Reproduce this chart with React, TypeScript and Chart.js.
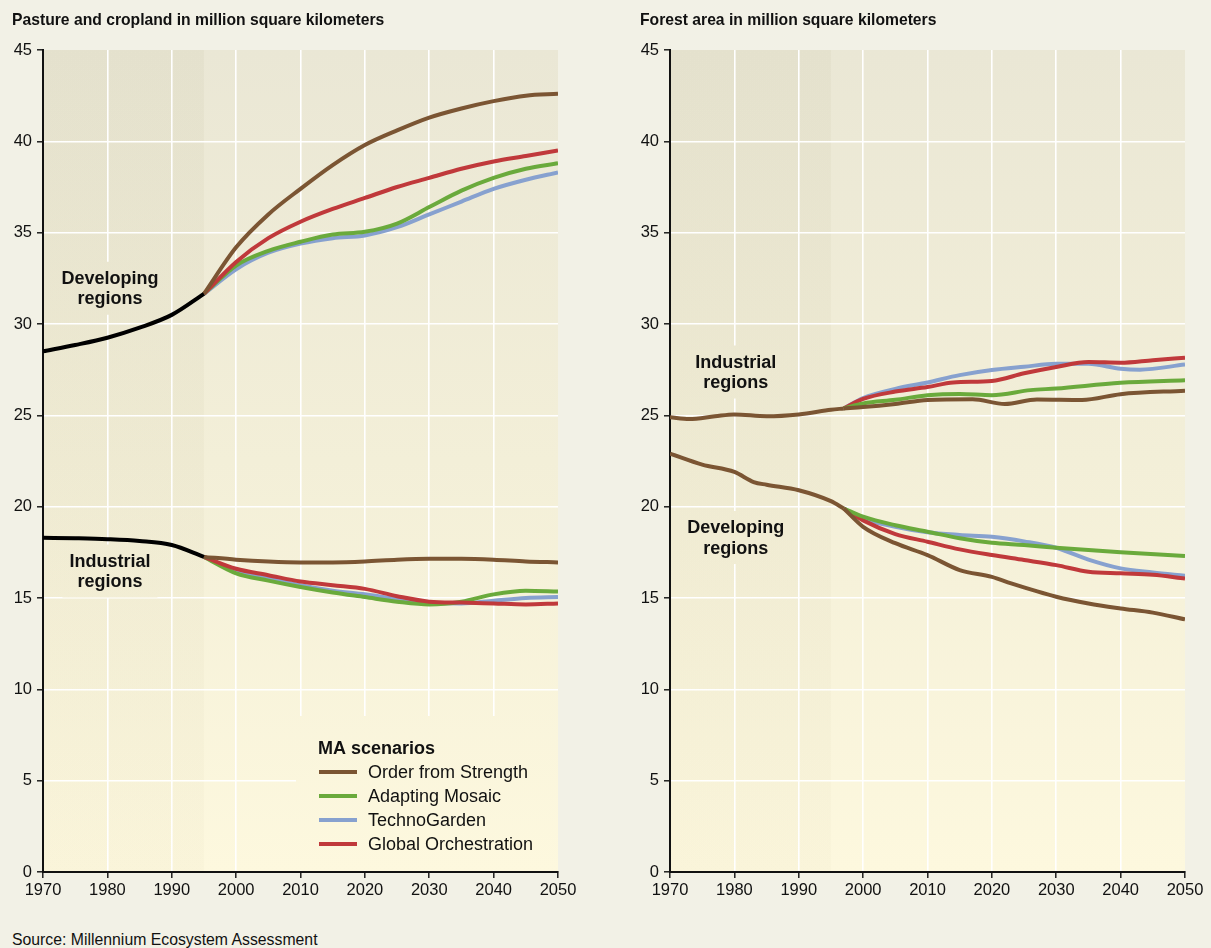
import React, { useEffect, useRef } from "react";
import { Chart, registerables } from "chart.js";

Chart.register(...registerables);

// ---------------- DATA ----------------
// Left panel: pasture and cropland (million km²)
const pastureHistYears = [1970, 1975, 1980, 1985, 1990, 1995];
const pastureDevHist = [28.5, 28.85, 29.25, 29.8, 30.5, 31.65];
const pastureIndHist = [18.3, 18.27, 18.22, 18.12, 17.9, 17.25];

const pastureScenYears = [1995, 2000, 2005, 2010, 2015, 2020, 2025, 2030, 2035, 2040, 2045, 2050];
const pastureDevOfS = [31.65, 34.2, 36.0, 37.4, 38.7, 39.8, 40.6, 41.3, 41.8, 42.2, 42.5, 42.6];
const pastureDevAM = [31.65, 33.2, 34.0, 34.5, 34.9, 35.05, 35.5, 36.4, 37.3, 38.0, 38.5, 38.8];
const pastureDevTG = [31.65, 33.0, 33.9, 34.4, 34.7, 34.85, 35.3, 36.0, 36.7, 37.4, 37.9, 38.3];
const pastureDevGO = [31.65, 33.4, 34.7, 35.6, 36.3, 36.9, 37.5, 38.0, 38.5, 38.9, 39.2, 39.5];
const pastureIndOfS = [17.25, 17.1, 17.0, 16.95, 16.95, 17.0, 17.1, 17.15, 17.15, 17.1, 17.0, 16.95];
const pastureIndAM = [17.25, 16.35, 15.95, 15.6, 15.3, 15.05, 14.8, 14.65, 14.8, 15.2, 15.4, 15.35];
const pastureIndTG = [17.25, 16.5, 16.1, 15.7, 15.4, 15.2, 14.95, 14.75, 14.7, 14.85, 15.0, 15.05];
const pastureIndGO = [17.25, 16.6, 16.25, 15.9, 15.7, 15.5, 15.1, 14.8, 14.75, 14.7, 14.65, 14.7];

// Right panel: forest area (million km²)
const forestIndHistYears = [1970, 1973, 1977, 1980, 1985, 1990, 1995, 1997];
const forestIndHist = [24.9, 24.8, 24.95, 25.05, 24.95, 25.05, 25.3, 25.38];
const forestDevHistYears = [1970, 1975, 1980, 1983, 1985, 1990, 1995, 1997];
const forestDevHist = [22.9, 22.3, 21.9, 21.35, 21.2, 20.9, 20.3, 19.9];

const forestIndOfSYears = [1997, 2000, 2005, 2010, 2017, 2022, 2027, 2034, 2040, 2050];
const forestIndOfS = [25.38, 25.45, 25.62, 25.84, 25.88, 25.62, 25.87, 25.84, 26.16, 26.35];
const forestIndAMYears = [1997, 2000, 2005, 2010, 2015, 2020, 2026, 2030, 2040, 2050];
const forestIndAM = [25.38, 25.65, 25.85, 26.1, 26.17, 26.1, 26.38, 26.47, 26.78, 26.92];
const forestIndTGYears = [1997, 2000, 2005, 2010, 2015, 2020, 2025, 2030, 2035, 2040, 2043, 2050];
const forestIndTG = [25.38, 25.95, 26.45, 26.8, 27.2, 27.48, 27.66, 27.82, 27.82, 27.55, 27.5, 27.78];
const forestIndGOYears = [1997, 2000, 2005, 2010, 2014, 2020, 2025, 2030, 2035, 2040, 2045, 2050];
const forestIndGO = [25.38, 25.9, 26.3, 26.55, 26.8, 26.88, 27.3, 27.65, 27.92, 27.88, 28.02, 28.15];

const forestDevScenYears = [1997, 2000, 2005, 2010, 2015, 2020, 2025, 2030, 2035, 2040, 2045, 2050];
const forestDevOfSYears = [1997, 2000, 2005, 2010, 2015, 2020, 2023, 2030, 2035, 2040, 2045, 2050];
const forestDevOfS = [19.9, 18.9, 18.0, 17.35, 16.53, 16.16, 15.8, 15.07, 14.7, 14.43, 14.2, 13.83];
const forestDevAMYears = [1997, 2000, 2005, 2010, 2015, 2020, 2025, 2030, 2040, 2050];
const forestDevAM = [19.9, 19.45, 18.98, 18.63, 18.27, 18.02, 17.9, 17.75, 17.5, 17.3];
const forestDevTG = [19.9, 19.35, 18.9, 18.6, 18.45, 18.35, 18.1, 17.75, 17.1, 16.62, 16.4, 16.22];
const forestDevGO = [19.9, 19.25, 18.5, 18.08, 17.66, 17.35, 17.08, 16.8, 16.44, 16.35, 16.27, 16.07];

const xTickYears = [1970, 1980, 1990, 2000, 2010, 2020, 2030, 2040, 2050];
const yTickValues = [0, 5, 10, 15, 20, 25, 30, 35, 40, 45];

const scenarioNames = ["Order from Strength", "Adapting Mosaic", "TechnoGarden", "Global Orchestration"];

// ---------------- STYLE ----------------
const COLORS = {
  ofs: "#7b5533",
  am: "#6aaa3c",
  tg: "#87a1cf",
  go: "#c0393b",
  hist: "#000000",
};
const scenarioColors = [COLORS.ofs, COLORS.am, COLORS.tg, COLORS.go];
const FONT = '"Liberation Sans", Arial, Helvetica, sans-serif';
const PAGE_BG = "#f2f1e6";

const zip = (xs: number[], ys: number[]) => xs.map((x, i) => ({ x, y: ys[i] }));

function line(label: string, xs: number[], ys: number[], color: string) {
  return {
    label,
    data: zip(xs, ys),
    borderColor: color,
    backgroundColor: color,
    borderWidth: 4,
    pointRadius: 0,
    pointHoverRadius: 0,
    fill: false,
    cubicInterpolationMode: "monotone" as const,
    tension: 0.4,
    borderCapStyle: "butt" as const,
    borderJoinStyle: "round" as const,
  };
}

function paintBg(chart: any, histEnd: number, x: number, y: number, w: number, h: number) {
  const { ctx, chartArea: a } = chart;
  ctx.save();
  ctx.beginPath();
  ctx.rect(x, y, w, h);
  ctx.clip();
  const g = ctx.createLinearGradient(0, a.top, 0, a.bottom);
  g.addColorStop(0, "#eae7d5");
  g.addColorStop(0.5, "#f3efd8");
  g.addColorStop(1, "#fdf8de");
  ctx.fillStyle = g;
  ctx.fillRect(a.left, a.top, a.width, a.height);
  const x1 = chart.scales.x.getPixelForValue(histEnd);
  const gh = ctx.createLinearGradient(0, a.top, 0, a.bottom);
  gh.addColorStop(0, "rgba(120,115,60,0.05)");
  gh.addColorStop(1, "rgba(120,100,40,0.025)");
  ctx.fillStyle = gh;
  ctx.fillRect(a.left, a.top, x1 - a.left, a.height);
  ctx.restore();
}

const decorPlugin = {
  id: "decor",
  beforeDraw(chart: any, _args: any, opts: any) {
    const a = chart.chartArea;
    paintBg(chart, opts.histEnd, a.left, a.top, a.width, a.height);
  },
  beforeDatasetsDraw(chart: any, _args: any, opts: any) {
    const { ctx, chartArea: a } = chart;
    const xs = chart.scales.x;
    const ys = chart.scales.y;
    // region annotations
    for (const an of opts.annotations || []) {
      const cx = xs.getPixelForValue(an.year);
      const cy = ys.getPixelForValue(an.value);
      ctx.save();
      ctx.font = `bold 18px ${FONT}`;
      const lh = 20.5;
      const w = Math.max(...an.lines.map((l: string) => ctx.measureText(l).width)) + 14;
      const h = lh * an.lines.length + 12;
      paintBg(chart, opts.histEnd, cx - w / 2, cy - h / 2, w, h);
      ctx.fillStyle = "#111";
      ctx.textAlign = "center";
      ctx.textBaseline = "middle";
      an.lines.forEach((l: string, i: number) =>
        ctx.fillText(l, cx, cy - (lh * (an.lines.length - 1)) / 2 + i * lh + 1)
      );
      ctx.restore();
    }
    // legend
    if (opts.legend) {
      const bw = 262;
      const bx = a.right - bw;
      const by = a.bottom - 156;
      const bh = a.bottom - 1.5 - by;
      paintBg(chart, opts.histEnd, bx, by, bw + 2, bh);
      ctx.save();
      ctx.fillStyle = "#111";
      ctx.textBaseline = "middle";
      ctx.textAlign = "left";
      ctx.font = `bold 18px ${FONT}`;
      ctx.fillText(opts.legend.title, bx + 22, by + 33);
      ctx.font = `18px ${FONT}`;
      opts.legend.items.forEach((it: any, i: number) => {
        const yy = by + 56 + i * 24;
        ctx.strokeStyle = it.color;
        ctx.lineWidth = 4;
        ctx.beginPath();
        ctx.moveTo(bx + 23, yy);
        ctx.lineTo(bx + 61, yy);
        ctx.stroke();
        ctx.fillStyle = "#111";
        ctx.fillText(it.label, bx + 72, yy + 1);
      });
      ctx.restore();
    }
  },
};

function buildOptions(yAxisWidth: number, padRight: number, plugOpts: any) {
  return {
    responsive: false,
    animation: false as const,
    events: [] as any[],
    layout: { padding: { top: 50, right: padRight, left: 0, bottom: 0 } },
    plugins: {
      legend: { display: false },
      tooltip: { enabled: false },
      title: { display: false },
      decor: plugOpts,
    },
    scales: {
      x: {
        type: "linear" as const,
        min: 1970,
        max: 2050,
        afterBuildTicks: (s: any) => {
          s.ticks = xTickYears.map((v) => ({ value: v }));
        },
        afterFit: (s: any) => {
          s.height = 38;
        },
        ticks: {
          callback: (v: any) => String(v),
          color: "#111",
          font: { family: FONT, size: 16.5 },
          padding: 3,
          maxRotation: 0,
          autoSkip: false,
        },
        grid: {
          color: (c: any) => (c.tick && c.tick.value === 2050 ? "rgba(0,0,0,0)" : "#ffffff"),
          lineWidth: 1.6,
          tickColor: "#111",
          tickLength: 6,
          tickWidth: 1.4,
        },
        border: { display: true, color: "#111", width: 2 },
      },
      y: {
        type: "linear" as const,
        min: 0,
        max: 45,
        afterBuildTicks: (s: any) => {
          s.ticks = yTickValues.map((v) => ({ value: v }));
        },
        afterFit: (s: any) => {
          s.width = yAxisWidth;
        },
        ticks: {
          callback: (v: any) => String(v),
          color: "#111",
          font: { family: FONT, size: 16.5 },
          padding: 5,
          autoSkip: false,
        },
        grid: {
          color: (c: any) => (c.tick && c.tick.value === 45 ? "rgba(0,0,0,0)" : "#ffffff"),
          lineWidth: 1.6,
          tickColor: "#111",
          tickLength: 6,
          tickWidth: 1.4,
        },
        border: { display: true, color: "#111", width: 2 },
      },
    },
  };
}

function pastureDatasets() {
  return [
    line("Developing regions (historical)", pastureHistYears, pastureDevHist, COLORS.hist),
    line("Industrial regions (historical)", pastureHistYears, pastureIndHist, COLORS.hist),
    line("Developing – Order from Strength", pastureScenYears, pastureDevOfS, COLORS.ofs),
    line("Industrial – Order from Strength", pastureScenYears, pastureIndOfS, COLORS.ofs),
    line("Developing – Global Orchestration", pastureScenYears, pastureDevGO, COLORS.go),
    line("Industrial – Global Orchestration", pastureScenYears, pastureIndGO, COLORS.go),
    line("Developing – Adapting Mosaic", pastureScenYears, pastureDevAM, COLORS.am),
    line("Industrial – Adapting Mosaic", pastureScenYears, pastureIndAM, COLORS.am),
    line("Developing – TechnoGarden", pastureScenYears, pastureDevTG, COLORS.tg),
    line("Industrial – TechnoGarden", pastureScenYears, pastureIndTG, COLORS.tg),
  ];
}

function forestDatasets() {
  return [
    line("Industrial regions (historical)", forestIndHistYears, forestIndHist, COLORS.ofs),
    line("Developing regions (historical)", forestDevHistYears, forestDevHist, COLORS.ofs),
    line("Industrial – Order from Strength", forestIndOfSYears, forestIndOfS, COLORS.ofs),
    line("Developing – Order from Strength", forestDevOfSYears, forestDevOfS, COLORS.ofs),
    line("Industrial – Adapting Mosaic", forestIndAMYears, forestIndAM, COLORS.am),
    line("Developing – Adapting Mosaic", forestDevAMYears, forestDevAM, COLORS.am),
    line("Industrial – Global Orchestration", forestIndGOYears, forestIndGO, COLORS.go),
    line("Developing – Global Orchestration", forestDevScenYears, forestDevGO, COLORS.go),
    line("Industrial – TechnoGarden", forestIndTGYears, forestIndTG, COLORS.tg),
    line("Developing – TechnoGarden", forestDevScenYears, forestDevTG, COLORS.tg),
  ];
}

function Panel(props: {
  left: number;
  width: number;
  yAxisWidth: number;
  padRight: number;
  datasets: () => any[];
  plugOpts: any;
}) {
  const ref = useRef<HTMLCanvasElement | null>(null);
  useEffect(() => {
    if (!ref.current) return;
    const chart = new Chart(ref.current, {
      type: "line",
      data: { datasets: props.datasets() },
      options: buildOptions(props.yAxisWidth, props.padRight, props.plugOpts) as any,
      plugins: [decorPlugin as any],
    });
    return () => chart.destroy();
  }, []);
  return (
    <canvas
      ref={ref}
      width={props.width}
      height={910}
      style={{ position: "absolute", left: props.left, top: 0, width: props.width, height: 910 }}
    />
  );
}

export default function App() {
  const titleStyle: React.CSSProperties = {
    position: "absolute",
    top: 11,
    fontFamily: FONT,
    fontWeight: "bold",
    fontSize: 15.7,
    lineHeight: "18px",
    color: "#111",
    whiteSpace: "nowrap",
  };
  return (
    <div
      style={{
        position: "absolute",
        left: 0,
        top: 0,
        width: 1211,
        height: 948,
        overflow: "hidden",
        background: PAGE_BG,
      }}
    >
      <Panel
        left={0}
        width={600}
        yAxisWidth={43}
        padRight={42}
        datasets={pastureDatasets}
        plugOpts={{
          histEnd: 1995,
          annotations: [
            { year: 1980.4, value: 31.96, lines: ["Developing", "regions"] },
            { year: 1980.4, value: 16.48, lines: ["Industrial", "regions"] },
          ],
          legend: {
            title: "MA scenarios",
            items: scenarioNames.map((label, i) => ({ label, color: scenarioColors[i] })),
          },
        }}
      />
      <Panel
        left={611}
        width={600}
        yAxisWidth={59}
        padRight={26}
        datasets={forestDatasets}
        plugOpts={{
          histEnd: 1995,
          annotations: [
            { year: 1980.2, value: 27.37, lines: ["Industrial", "regions"] },
            { year: 1980.2, value: 18.31, lines: ["Developing", "regions"] },
          ],
        }}
      />
      <div style={{ ...titleStyle, left: 12 }}>Pasture and cropland in million square kilometers</div>
      <div style={{ ...titleStyle, left: 640 }}>Forest area in million square kilometers</div>
      <div
        style={{
          position: "absolute",
          left: 12,
          top: 931,
          fontFamily: FONT,
          fontSize: 15.8,
          lineHeight: "18px",
          color: "#111",
          whiteSpace: "nowrap",
        }}
      >
        Source: Millennium Ecosystem Assessment
      </div>
    </div>
  );
}
